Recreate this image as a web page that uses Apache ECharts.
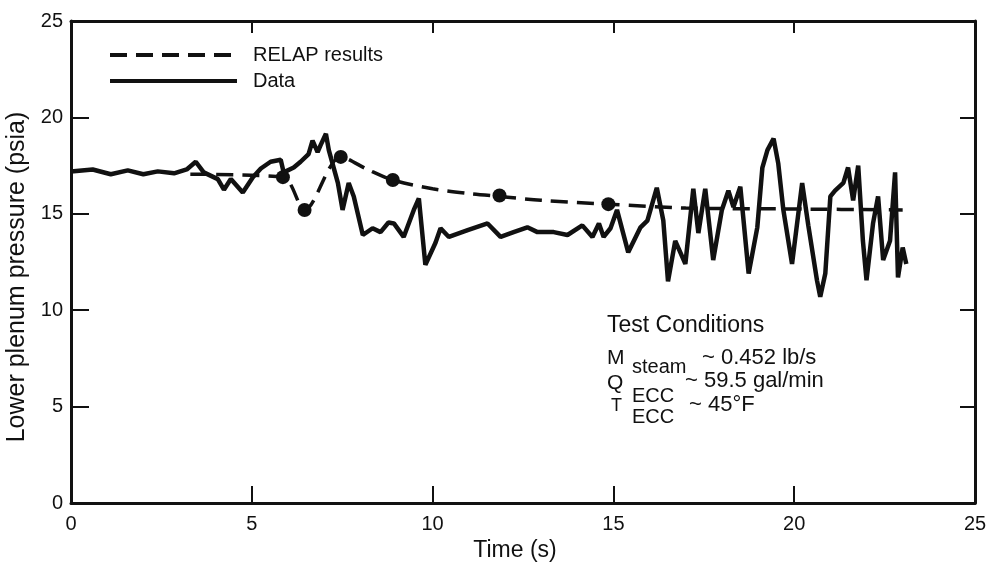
<!DOCTYPE html>
<html>
<head>
<meta charset="utf-8">
<script src="https://cdn.jsdelivr.net/npm/echarts@6/dist/echarts.min.js"></script>
<style>
  html, body { margin: 0; padding: 0; background: #fff; }
  #chart { width: 991px; height: 566px; }
</style>
</head>
<body>
<div id="chart"></div>
<script>
// measured data, [time (s), pressure (psia)]
var relapResults = [
  [3.3, 17.05], [5.86, 16.9], [6.46, 15.2], [7.46, 17.95], [8.2, 17.3],
  [8.9, 16.75], [10, 16.3], [11, 16.05], [11.85, 15.9], [13, 15.7],
  [14.86, 15.5], [17, 15.3], [20, 15.25], [23, 15.2]
]
var relapPoints = [
  [5.86, 16.9], [6.46, 15.2], [7.46, 17.95], [8.9, 16.75], [11.85, 15.95], [14.86, 15.5]
]
var testData = [
  [0, 17.2], [0.6, 17.3], [1.1, 17.05], [1.57, 17.25], [2.0, 17.05], [2.4, 17.2],
  [2.85, 17.1], [3.2, 17.3], [3.45, 17.7], [3.67, 17.15], [4.06, 16.8], [4.23, 16.25],
  [4.42, 16.8], [4.75, 16.1], [5.03, 16.9], [5.25, 17.35], [5.52, 17.7], [5.8, 17.8],
  [5.88, 17.15], [6.16, 17.4], [6.35, 17.7], [6.57, 18.1], [6.68, 18.8], [6.82, 18.2],
  [6.9, 18.55], [7.05, 19.15], [7.13, 18.3], [7.38, 16.6], [7.51, 15.2], [7.68, 16.6],
  [7.82, 15.9], [8.07, 13.9], [8.34, 14.25], [8.56, 14.05], [8.78, 14.55], [8.93, 14.5],
  [9.2, 13.8], [9.48, 15.2], [9.62, 15.8], [9.8, 12.35], [10.08, 13.5], [10.22, 14.25],
  [10.45, 13.8], [10.97, 14.15], [11.52, 14.5], [11.88, 13.8], [12.24, 14.05], [12.62, 14.3],
  [12.9, 14.05], [13.35, 14.05], [13.73, 13.9], [14.14, 14.4], [14.42, 13.8], [14.6, 14.5],
  [14.73, 13.8], [14.92, 14.25], [15.1, 15.2], [15.41, 13.0], [15.75, 14.3], [15.94, 14.65],
  [16.2, 16.35], [16.38, 14.65], [16.51, 11.5], [16.71, 13.6], [16.99, 12.4], [17.21, 16.3],
  [17.35, 14.0], [17.54, 16.3], [17.76, 12.6], [18.0, 15.2], [18.18, 16.2], [18.32, 15.35],
  [18.51, 16.4], [18.74, 11.9], [18.98, 14.3], [19.12, 17.4], [19.26, 18.3], [19.43, 18.9],
  [19.56, 17.6], [19.7, 15.2], [19.94, 12.4], [20.22, 16.6], [20.39, 14.4], [20.63, 11.55],
  [20.72, 10.7], [20.86, 11.9], [21.0, 15.9], [21.13, 16.2], [21.36, 16.6], [21.49, 17.4],
  [21.63, 15.7], [21.77, 17.5], [21.9, 13.6], [22.0, 11.55], [22.18, 14.5], [22.32, 15.9],
  [22.46, 12.6], [22.65, 13.6], [22.79, 17.15], [22.87, 11.7], [23.0, 13.25], [23.1, 12.4]
]

var ink = '#111'
var font = 'Liberation Sans, Arial, sans-serif'
var chart = echarts.init(document.getElementById('chart'))

// top / right frame axes, no labels
function sideAxis(pos, isX) {
  return {
    type: 'value', position: pos, min: 0, max: 25, interval: 5,
    axisLine: { show: true, onZero: false, lineStyle: { color: ink, width: 3 } },
    axisTick: { show: true, inside: true, length: isX ? 12 : 15, lineStyle: { color: ink, width: 2 } },
    axisLabel: { show: false },
    splitLine: { show: false }
  }
}

function label(text, left, top, size) {
  return { type: 'text', left: left, top: top, style: { text: text, fontSize: size, fontFamily: font, fill: ink } }
}

chart.setOption({
  animation: false,
  backgroundColor: '#fff',
  grid: { left: 71, right: 16, top: 21, bottom: 63, outerBoundsMode: 'none' },
  legend: {
    data: ['RELAP results', 'Data'],
    orient: 'vertical',
    left: 103, top: 40,
    itemWidth: 127, itemHeight: 20, itemGap: 6,
    itemStyle: { opacity: 0 },
    lineStyle: { width: 4 },
    textStyle: { color: ink, fontSize: 20, fontFamily: font, padding: [0, 0, 0, 11] }
  },
  xAxis: [
    {
      type: 'value', min: 0, max: 25, interval: 5,
      name: 'Time (s)', nameLocation: 'middle', nameGap: 32,
      nameTextStyle: { color: ink, fontSize: 23, fontFamily: font, padding: [0, 16, 0, 0] },
      axisLine: { show: true, onZero: false, lineStyle: { color: ink, width: 3 } },
      axisTick: { show: true, inside: true, length: 17, lineStyle: { color: ink, width: 2 } },
      axisLabel: { color: ink, fontSize: 20, fontFamily: font, margin: 11 },
      splitLine: { show: false }
    },
    sideAxis('top', true)
  ],
  yAxis: [
    {
      type: 'value', min: 0, max: 25, interval: 5,
      name: 'Lower plenum pressure (psia)', nameLocation: 'middle', nameGap: 40,
      nameTextStyle: { color: ink, fontSize: 25, fontFamily: font, padding: [0, 30, 0, 0] },
      axisLine: { show: true, onZero: false, lineStyle: { color: ink, width: 3 } },
      axisTick: { show: true, inside: true, length: 18, lineStyle: { color: ink, width: 2 } },
      axisLabel: { color: ink, fontSize: 20, fontFamily: font, margin: 8 },
      splitLine: { show: false }
    },
    sideAxis('right', false)
  ],
  series: [
    {
      name: 'RELAP results', type: 'line', data: relapResults,
      smooth: 0.3, symbol: 'none',
      lineStyle: { color: ink, width: 3.5, type: [17, 9] },
      itemStyle: { color: ink }
    },
    {
      name: 'Data', type: 'line', data: testData,
      symbol: 'none',
      lineStyle: { color: ink, width: 4.5 },
      itemStyle: { color: ink }
    },
    {
      name: 'markers', type: 'scatter', data: relapPoints,
      symbolSize: 14, itemStyle: { color: ink, opacity: 1 }
    }
  ],
  graphic: [
    label('Test Conditions', 607, 314, 23),
    label('M', 607, 348, 21),
    label('steam', 632, 357, 20),
    label('~ 0.452 lb/s', 702, 347, 22),
    label('Q', 607, 373, 21),
    label('ECC', 632, 386, 20),
    label('~ 59.5 gal/min', 685, 370, 22),
    label('T', 611, 397, 18),
    label('ECC', 632, 407, 20),
    label('~ 45°F', 689, 394, 22)
  ]
})
</script>
</body>
</html>
